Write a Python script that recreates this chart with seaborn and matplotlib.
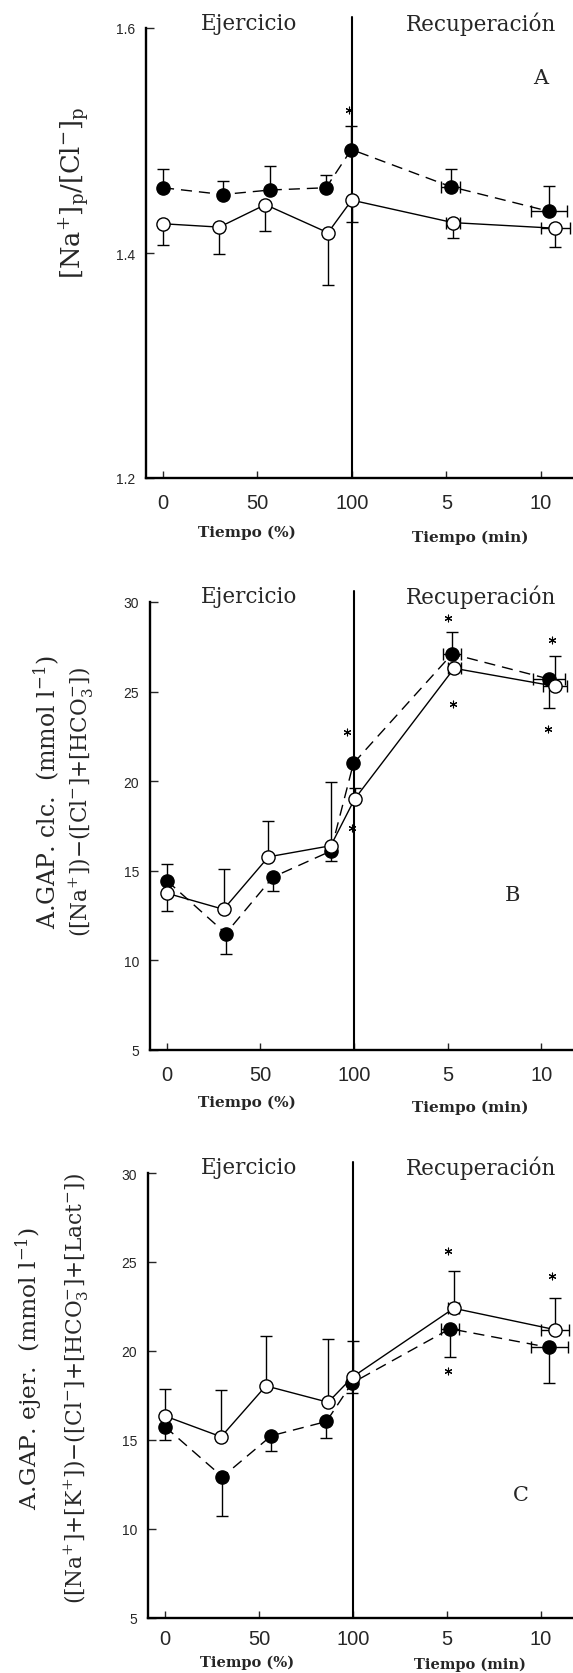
import matplotlib
matplotlib.use("Agg")
import matplotlib.pyplot as plt
import seaborn as sns

sns.set_theme(style="ticks")
plt.rcParams["font.family"] = ["DejaVu Serif"]
plt.rcParams["mathtext.fontset"] = "dejavuserif"

# Horizontal axis: exercise as % of duration (0-100), recovery as 100 + 10 * minutes
tick_pos = [0, 50, 100, 150, 200]
tick_labels = ["0", "50", "100", "5", "10"]

# ---- Panel A: [Na+]p/[Cl-]p ----
A_fill_x = [0, 31.6, 56.7, 86.3, 99.7, 152.2, 204.4]
A_fill_y = [1.458, 1.452, 1.456, 1.458, 1.492, 1.459, 1.437]
A_fill_lo = [1.458, 1.452, 1.456, 1.458, 1.492, 1.459, 1.437]
A_fill_hi = [1.475, 1.464, 1.477, 1.469, 1.513, 1.475, 1.460]
A_fill_xerr = [0, 0, 0, 0, 0, 5.0, 9.5]
A_open_x = [0, 29.8, 54.2, 87.3, 99.9, 153.5, 207.7]
A_open_y = [1.426, 1.423, 1.443, 1.418, 1.447, 1.427, 1.422]
A_open_lo = [1.407, 1.399, 1.420, 1.372, 1.428, 1.413, 1.405]
A_open_hi = [1.426, 1.423, 1.443, 1.418, 1.447, 1.427, 1.422]
A_open_xerr = [0, 0, 0, 0, 0, 3.5, 7.5]
A_star_x = [98.5]
A_star_y = [1.527]

# ---- Panel B: anion gap (calculated) ----
B_fill_x = [0, 31.5, 56.7, 87.6, 99.7, 152.4, 204.3]
B_fill_y = [14.45, 11.5, 14.65, 16.1, 21.0, 27.1, 25.7]
B_fill_lo = [14.45, 10.37, 13.9, 15.55, 21.0, 27.1, 24.1]
B_fill_hi = [15.37, 11.5, 14.65, 16.1, 21.0, 28.3, 25.7]
B_fill_xerr = [0, 0, 0, 0, 0, 5.0, 8.5]
B_open_x = [0, 30.3, 54.3, 87.6, 100.3, 153.5, 207.4]
B_open_y = [13.75, 12.85, 15.78, 16.4, 19.0, 26.3, 25.3]
B_open_lo = [12.76, 12.85, 15.78, 16.4, 19.0, 26.3, 25.3]
B_open_hi = [13.75, 15.1, 17.76, 19.96, 19.6, 26.3, 27.0]
B_open_xerr = [0, 0, 0, 0, 0, 3.5, 6.5]
B_star_x = [96.5, 99.0, 150.3, 152.8, 205.7, 203.8]
B_star_y = [22.75, 17.4, 29.1, 24.3, 27.9, 22.9]

# ---- Panel C: anion gap (exercise) ----
C_fill_x = [0, 30.6, 56.6, 85.9, 99.5, 151.6, 204.3]
C_fill_y = [15.75, 12.93, 15.24, 16.04, 18.2, 21.25, 20.2]
C_fill_lo = [15.02, 10.72, 14.36, 15.12, 17.63, 19.65, 18.2]
C_fill_hi = [15.75, 12.93, 15.24, 16.04, 18.2, 21.25, 20.2]
C_fill_xerr = [0, 0, 0, 0, 0, 4.7, 9.8]
C_open_x = [0, 29.9, 53.7, 86.8, 99.9, 153.6, 207.4]
C_open_y = [16.35, 15.18, 18.04, 17.12, 18.55, 22.4, 21.2]
C_open_lo = [16.35, 15.18, 18.04, 17.12, 18.55, 22.4, 21.2]
C_open_hi = [17.84, 17.8, 20.86, 20.7, 20.54, 24.5, 23.0]
C_open_xerr = [0, 0, 0, 0, 0, 3.0, 7.4]
C_star_x = [150.6, 150.6, 205.8]
C_star_y = [25.6, 18.85, 24.2]

W, H = 573, 1674
fig = plt.figure(figsize=(W / 100, H / 100), dpi=100)


def px_axes(left, top, bottom, right=W):
    return fig.add_axes([left / W, 1 - bottom / H, (right - left) / W, (bottom - top) / H])


def ftext(x, y, s, **kw):
    fig.text(x / W, 1 - y / H, s, ha="center", va="center", **kw)


def draw_series(ax, x, y, lo, hi, xerr, filled):
    for xi, yi, l, h, xe in zip(x, y, lo, hi, xerr):
        if h > yi or l < yi:
            ax.errorbar([xi], [yi], yerr=[[yi - l], [h - yi]], fmt="none",
                        ecolor="black", elinewidth=1.0, capsize=4, capthick=1.0, zorder=1.5)
        if xe > 0:
            ax.errorbar([xi], [yi], xerr=[[xe], [xe]], fmt="none",
                        ecolor="black", elinewidth=1.0, capsize=4, capthick=1.0, zorder=1.5)
    sns.lineplot(x=x, y=y, ax=ax, sort=False, estimator=None, color="black",
                 lw=1.0, linestyle=(0, (8, 5)) if filled else "-",
                 marker="o", markersize=9.5,
                 markerfacecolor="black" if filled else "white",
                 markeredgecolor="black", markeredgewidth=1.0,
                 zorder=3 if filled else 4)


def panel(rect, fill, opn, stars, ylim, yticks, yfmt, letter, letter_xy,
          top_y, tl_y, tick_pad=11, tl_size=11, min_dy=5):
    ax = px_axes(*rect)
    draw_series(ax, *fill, filled=True)
    draw_series(ax, *opn, filled=False)
    ax.scatter(stars[0], stars[1], marker=(6, 2, 0), s=24, color="black",
               linewidths=0.8, zorder=5)
    ax.axvline(100, 0, 1.024, color="black", lw=1.5, clip_on=False, zorder=2.5)
    ax.set_xlim(-9, 217)
    ax.set_ylim(*ylim)
    ax.set_xticks(tick_pos)
    ax.set_xticklabels(tick_labels)
    ax.set_yticks(yticks)
    ax.set_yticklabels([yfmt.format(v) for v in yticks])
    ax.tick_params(axis="x", direction="in", length=5, width=1.0, labelsize=14.5,
                   pad=tick_pad, labelfontfamily="Liberation Sans")
    ax.tick_params(axis="y", direction="in", length=6, width=1.0, labelsize=10,
                   pad=8, labelfontfamily="Liberation Sans")
    for s in ("top", "right"):
        ax.spines[s].set_visible(False)
    for s in ("left", "bottom"):
        ax.spines[s].set_linewidth(1.7)
        ax.spines[s].set_color("black")
    ax.set_xlabel("")
    ax.set_ylabel("")
    ax.grid(False)
    ax.set_facecolor("white")
    ftext(letter_xy[0], letter_xy[1], letter, fontsize=15)
    ftext(249, top_y, "Ejercicio", fontsize=15.5)
    ftext(481, top_y, "Recuperación", fontsize=15.5)
    ftext(247, tl_y, "Tiempo (%)", fontsize=tl_size, fontweight="bold")
    ftext(470, tl_y + min_dy, "Tiempo (min)", fontsize=tl_size, fontweight="bold")
    return ax


panel((146, 29, 479),
      (A_fill_x, A_fill_y, A_fill_lo, A_fill_hi, A_fill_xerr),
      (A_open_x, A_open_y, A_open_lo, A_open_hi, A_open_xerr),
      (A_star_x, A_star_y), (1.2, 1.6), [1.2, 1.4, 1.6], "{:.1f}",
      "A", (541, 79), 24, 533)
ftext(75, 193, r"$[\mathrm{Na}^{+}]_{\mathrm{p}}/[\mathrm{Cl}^{-}]_{\mathrm{p}}$",
      fontsize=18.5, rotation=90)

panel((150, 603, 1051),
      (B_fill_x, B_fill_y, B_fill_lo, B_fill_hi, B_fill_xerr),
      (B_open_x, B_open_y, B_open_lo, B_open_hi, B_open_xerr),
      (B_star_x, B_star_y), (5, 30), [5, 10, 15, 20, 25, 30], "{:d}",
      "B", (512, 896), 597, 1103)
ftext(47, 792, r"A.GAP. clc.  (mmol l$^{-1}$)", fontsize=17, rotation=90)
ftext(82, 802, r"([Na$^{+}$])$-$([Cl$^{-}$]+[HCO$_{3}^{-}$])", fontsize=15.6, rotation=90)

panel((148, 1174, 1619),
      (C_fill_x, C_fill_y, C_fill_lo, C_fill_hi, C_fill_xerr),
      (C_open_x, C_open_y, C_open_lo, C_open_hi, C_open_xerr),
      (C_star_x, C_star_y), (5, 30), [5, 10, 15, 20, 25, 30], "{:d}",
      "C", (521, 1496), 1168, 1663, tick_pad=8, tl_size=10.5, min_dy=2)
ftext(29, 1368, r"A.GAP. ejer.  (mmol l$^{-1}$)", fontsize=16.8, rotation=90)
ftext(77, 1389, r"([Na$^{+}$]+[K$^{+}$])$-$([Cl$^{-}$]+[HCO$_{3}^{-}$]+[Lact$^{-}$])",
      fontsize=15.6, rotation=90)

fig.savefig("out.png", dpi=100, facecolor="white")
